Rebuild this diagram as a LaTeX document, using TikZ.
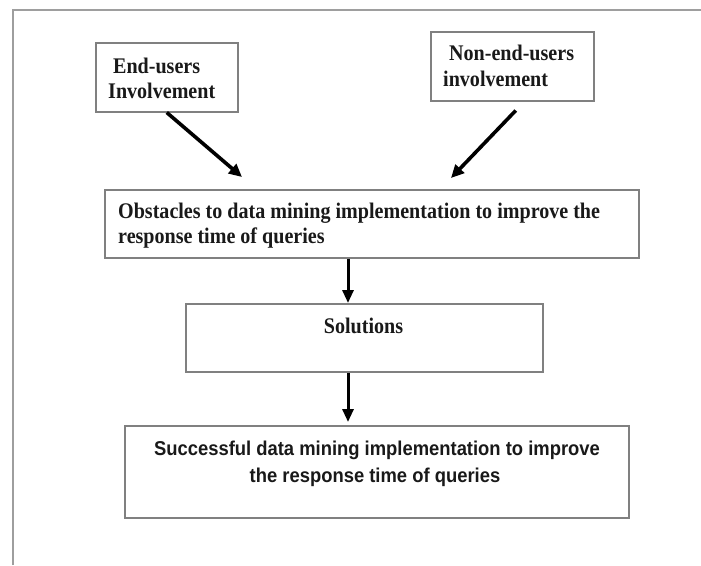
\documentclass[tikz,border=0pt]{standalone}
\usepackage{fontspec}
\setmainfont{Liberation Serif}[FakeStretch=0.9]
\newfontfamily\arialfont{Liberation Sans}[FakeStretch=0.92]
\usetikzlibrary{arrows.meta}
\begin{document}
\begin{tikzpicture}[x=1pt,y=-1pt,
  box/.style={draw=black!50, line width=1.5pt, inner sep=0pt, anchor=north west},
  lbl/.style={anchor=base west, inner sep=0pt, text=black!90, font=\fontsize{22.3}{26}\selectfont\bfseries},
  albl/.style={anchor=base, inner sep=0pt, text=black!90, font=\arialfont\fontsize{20}{24}\selectfont\bfseries},
  flow/.style={line width=3.6pt, -{Triangle[length=13pt,width=12pt]}},
  vflow/.style={line width=3pt, -{Triangle[length=13pt,width=11pt]}},
]
\useasboundingbox (0,0) rectangle (701,565);
\draw[black!38, line width=2pt] (12.5,565) -- (12.5,10) -- (701,10);

% boxes
\node[box, minimum width=142pt, minimum height=69pt] (eu) at (95,42) {};
\node[box, minimum width=163pt, minimum height=69pt] (ne) at (430,31) {};
\node[box, minimum width=534pt, minimum height=68pt] (obs) at (104,189) {};
\node[box, minimum width=357pt, minimum height=68pt] (sol) at (185,303) {};
\node[box, minimum width=504pt, minimum height=92pt] (suc) at (124,425) {};

% texts
\node[lbl] (eu1) at (113,73) {End-users};
\node[lbl] (eu2) at (108,98) {Involvement};
\node[lbl] (ne1) at (449,60) {Non-end-users};
\node[lbl] (ne2) at (443,86) {involvement};
\node[lbl] (obs1) at (118,218) {Obstacles to data mining implementation to improve the};
\node[lbl] (obs2) at (118,243) {response time of queries};
\node[lbl, anchor=base] (sol1) at (363.5,333) {Solutions};
\node[albl] (suc1) at (377,455) {Successful data mining implementation to improve};
\node[albl] (suc2) at (375,482) {the response time of queries};

% connectors
\coordinate (eu-end) at (242,177);
\coordinate (ne-end) at (451,178);
\coordinate (ax) at (348,0);
\draw[flow] (eu.south) -- (eu-end);
\draw[flow] ([shift={(3.5,9)}]ne.south) -- (ne-end);
\draw[vflow] (obs.south -| ax) -- (sol.north -| ax);
\draw[vflow, shorten >=3pt] (sol.south -| ax) -- (suc.north -| ax);
\end{tikzpicture}
\end{document}
